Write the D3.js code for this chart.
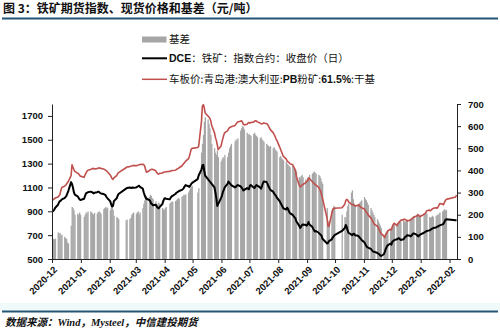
<!DOCTYPE html>
<html>
<head>
<meta charset="utf-8">
<script src="https://cdn.jsdelivr.net/npm/d3@7"></script>
<style>
  html, body { margin: 0; padding: 0; background: #fff; }
  svg { display: block; }
</style>
</head>
<body>
<svg id="chart" width="500" height="332"></svg>
<script>
// Exchange holidays (DCE) inside the plotted period
const holidays = [
  "2021-01-01", "2021-02-11", "2021-02-12", "2021-02-15", "2021-02-16", "2021-02-17",
  "2021-04-05", "2021-05-03", "2021-05-04", "2021-05-05", "2021-06-14",
  "2021-09-20", "2021-09-21", "2021-10-01", "2021-10-04", "2021-10-05", "2021-10-06", "2021-10-07",
  "2022-01-03", "2022-01-31", "2022-02-01", "2022-02-02", "2022-02-03", "2022-02-04"
];
const firstDay = "2020-12-01";
const lastDay = "2022-02-08";

// Month labels on the date axis
const monthTicks = ["2020-12", "2021-01", "2021-02", "2021-03", "2021-04", "2021-05", "2021-06",
  "2021-07", "2021-08", "2021-09", "2021-10", "2021-11", "2021-12", "2022-01", "2022-02"];

// DCE iron ore index contract, daily close (yuan/t), one row per month
const futuresClose = [
  [897, 905, 915, 930, 955, 975, 985, 990, 1000, 1010, 1020, 1030, 1050, 1070, 1145, 1130, 1100, 1060, 1040, 1025, 1015, 1000, 995],
  [1005, 1030, 1050, 1055, 1060, 1065, 1062, 1058, 1050, 1055, 1060, 1065, 1062, 1055, 1050, 1045, 1040, 1035, 1020, 1010],
  [985, 960, 940, 945, 985, 1010, 1030, 1045, 1090, 1095, 1100, 1098, 1095, 1100, 1098],
  [1100, 1105, 1110, 1115, 1105, 1090, 1060, 1035, 1015, 1005, 995, 985, 965, 960, 950, 955, 940, 930, 925, 935, 960, 985, 1005],
  [1010, 1005, 1000, 1015, 1025, 1030, 1045, 1055, 1060, 1065, 1070, 1080, 1085, 1095, 1110, 1120, 1110, 1105, 1115, 1130, 1138],
  [1170, 1200, 1250, 1285, 1290, 1240, 1200, 1170, 1160, 1150, 1140, 1130, 1100, 1060, 1010, 945, 960, 1010],
  [1030, 1060, 1080, 1100, 1130, 1150, 1140, 1130, 1120, 1100, 1105, 1115, 1120, 1110, 1100, 1090, 1075, 1080, 1095, 1090, 1085],
  [1115, 1120, 1100, 1095, 1110, 1120, 1115, 1100, 1090, 1110, 1135, 1150, 1145, 1130, 1110, 1095, 1080, 1065, 1050, 1040, 1030, 1015],
  [985, 970, 955, 940, 925, 915, 930, 920, 900, 885, 870, 860, 850, 840, 815, 780, 760, 770, 785, 790, 785, 780],
  [790, 810, 790, 770, 755, 740, 730, 735, 720, 710, 705, 695, 670, 630, 635, 650, 665, 680, 690, 700],
  [735, 760, 785, 770, 740, 720, 705, 700, 710, 712, 700, 695, 690, 680, 670, 660],
  [640, 625, 610, 600, 595, 585, 575, 565, 560, 560, 550, 545, 540, 530, 525, 540, 560, 585, 600, 615, 630, 620],
  [645, 650, 658, 665, 670, 675, 668, 660, 665, 675, 685, 690, 700, 695, 690, 700, 710, 715, 705, 695, 690, 700, 705],
  [720, 725, 730, 735, 740, 745, 750, 755, 760, 765, 770, 772, 778, 782, 790, 795, 810, 828, 833],
  [825, 822]
];

// Qingdao port PB fines 61.5%, dry basis, truck-board price (yuan/t)
const spotPB = [
  [995, 1000, 1005, 1012, 1020, 1030, 1040, 1075, 1100, 1110, 1118, 1125, 1140, 1150, 1200, 1290, 1270, 1250, 1235, 1220, 1215, 1205, 1195],
  [1185, 1205, 1220, 1235, 1245, 1250, 1255, 1258, 1260, 1255, 1258, 1262, 1265, 1262, 1260, 1255, 1250, 1245, 1240, 1232],
  [1205, 1190, 1175, 1168, 1180, 1200, 1215, 1225, 1265, 1272, 1275, 1278, 1280, 1282, 1285],
  [1282, 1285, 1288, 1290, 1293, 1295, 1292, 1280, 1250, 1228, 1240, 1248, 1250, 1252, 1250, 1240, 1225, 1215, 1212, 1218, 1222, 1226, 1230],
  [1230, 1232, 1235, 1238, 1240, 1242, 1245, 1250, 1255, 1260, 1265, 1280, 1290, 1300, 1310, 1320, 1340, 1360, 1390, 1420, 1428],
  [1435, 1445, 1650, 1780, 1795, 1770, 1725, 1700, 1690, 1680, 1660, 1620, 1560, 1520, 1495, 1460, 1418, 1445],
  [1480, 1510, 1540, 1560, 1575, 1590, 1600, 1605, 1610, 1620, 1630, 1640, 1650, 1655, 1660, 1650, 1630, 1625, 1630, 1640, 1645],
  [1640, 1645, 1648, 1655, 1660, 1658, 1650, 1640, 1635, 1632, 1638, 1640, 1635, 1630, 1615, 1600, 1585, 1560, 1545, 1530, 1510, 1495],
  [1440, 1420, 1400, 1380, 1360, 1340, 1325, 1315, 1310, 1300, 1290, 1275, 1260, 1240, 1190, 1120, 1105, 1110, 1120, 1125, 1140, 1150],
  [1155, 1180, 1175, 1150, 1140, 1135, 1125, 1120, 1100, 1085, 1070, 1040, 1010, 840, 775, 775, 883, 910, 925, 925],
  [930, 960, 990, 1000, 995, 980, 960, 955, 958, 950, 945, 950, 955, 945, 935, 930],
  [920, 905, 895, 885, 870, 845, 830, 815, 800, 790, 775, 760, 745, 725, 715, 690, 680, 705, 715, 735, 750, 745],
  [770, 790, 800, 780, 795, 805, 815, 825, 830, 835, 830, 825, 820, 825, 830, 835, 845, 850, 860, 865, 870, 860, 855],
  [875, 880, 890, 905, 910, 905, 912, 920, 925, 930, 925, 935, 950, 965, 960, 955, 975, 990, 1000],
  [1020, 1035]
];

// Basis (yuan/t), right axis
const basis = [
  [95, 90, 88, 92, 120, 115, 118, 105, 110, 100, 95, 90, 75, 70, 150, 235, 230, 220, 200, 205, 200, 210, 200],
  [190, 200, 210, 205, 215, 215, 210, 205, 200, 208, 205, 212, 215, 210, 205, 225, 230, 235, 228, 232],
  [220, 230, 235, 222, 195, 190, 185, 180, 175, 178, 180, 185, 200, 205, 210],
  [205, 210, 215, 200, 210, 230, 250, 265, 280, 285, 280, 290, 285, 275, 270, 260, 250, 245, 255, 250, 230, 225, 220],
  [230, 235, 250, 255, 260, 258, 262, 265, 270, 275, 272, 280, 285, 290, 288, 292, 300, 310, 320, 325, 330],
  [300, 320, 480, 520, 560, 620, 640, 630, 610, 590, 560, 520, 500, 480, 470, 490, 460, 440],
  [450, 460, 455, 470, 460, 480, 500, 510, 520, 530, 540, 535, 545, 580, 590, 600, 595, 585, 570, 560, 565],
  [560, 555, 565, 570, 560, 555, 550, 545, 550, 540, 535, 530, 520, 515, 510, 505, 510, 500, 505, 495, 490, 485],
  [460, 465, 455, 450, 445, 440, 430, 425, 420, 415, 420, 410, 400, 405, 395, 370, 365, 375, 380, 370, 360, 355],
  [365, 370, 380, 385, 390, 395, 390, 385, 380, 375, 365, 350, 340, 230, 170, 160, 220, 230, 240, 235],
  [200, 190, 185, 215, 240, 250, 300, 310, 270, 250, 245, 240, 250, 255, 260, 265],
  [280, 270, 265, 255, 245, 230, 220, 210, 200, 190, 180, 170, 160, 150, 140, 110, 100, 120, 125, 130, 135, 130],
  [150, 155, 160, 160, 165, 170, 165, 170, 175, 170, 168, 172, 178, 180, 185, 182, 190, 195, 200, 205, 198, 195, 200],
  [200, 205, 210, 205, 190, 185, 190, 195, 190, 195, 200, 198, 205, 210, 215, 220, 225, 218, 222],
  [null, null]
];

const leftTicks = [500, 700, 900, 1100, 1300, 1500, 1700];
const rightTicks = [0, 100, 200, 300, 400, 500, 600, 700];

// Legend labels, split into CJK and Latin runs (Latin runs set in bold)
const legendBasis = [["基差", false]];
const legendFutures = [["DCE", true], ["：铁矿：指数合约：收盘价（日）", false]];
const legendSpot = [["车板价:青岛港:澳大利亚:", false], ["PB", true], ["粉矿:", false], ["61.5%", true], [":干基", false]];

// ---- trading calendar ----
const parseDay = d3.utcParse("%Y-%m-%d");
const fmtDay = d3.utcFormat("%Y-%m-%d");
const holidaySet = new Set(holidays);
const start = parseDay(firstDay), end = parseDay(lastDay);

function tradingDaysOf(monthKey) {
  const m0 = d3.utcParse("%Y-%m")(monthKey);
  const m1 = d3.utcMonth.offset(m0, 1);
  return d3.utcDays(m0, m1).filter(d => {
    const wd = d.getUTCDay();
    return wd !== 0 && wd !== 6 && !holidaySet.has(fmtDay(d)) && d >= start && d <= end;
  });
}

const rows = [];
monthTicks.forEach((mk, i) => {
  tradingDaysOf(mk).forEach((d, j) => {
    rows.push({ date: d, futures: futuresClose[i][j], spot: spotPB[i][j], basis: basis[i][j] });
  });
});

// ---- layout ----
const svg = d3.select("#chart");
const plot = { left: 52, right: 457, top: 104, bottom: 259 };
const rule = "#245776";

svg.append("rect").attr("width", 500).attr("height", 332).attr("fill", "#fff");

const x = d3.scaleUtc()
  .domain([start, d3.utcDay.offset(end, 1)])
  .range([plot.left, plot.right]);
const yL = d3.scaleLinear().domain([500, 1800]).range([plot.bottom, plot.top]);
const yR = d3.scaleLinear().domain([0, 700]).range([plot.bottom, plot.top]);

const mid = d => d3.utcHour.offset(d, 12);

// basis bars, one per trading day
svg.append("g").selectAll("rect")
  .data(rows.filter(r => r.basis != null))
  .join("rect")
  .attr("x", r => x(r.date))
  .attr("width", r => x(d3.utcDay.offset(r.date, 1)) - x(r.date) + 0.35)
  .attr("y", r => yR(r.basis))
  .attr("height", r => yR(0) - yR(r.basis))
  .attr("fill", "#a6a6a6");

// price lines
const lineOf = (key, scale) => d3.line()
  .defined(r => r[key] != null)
  .x(r => x(mid(r.date)))
  .y(r => scale(r[key]));

svg.append("path").datum(rows)
  .attr("d", lineOf("spot", yL))
  .attr("fill", "none").attr("stroke", "#c0504d").attr("stroke-width", 1.6)
  .attr("stroke-linejoin", "round");

svg.append("path").datum(rows)
  .attr("d", lineOf("futures", yL))
  .attr("fill", "none").attr("stroke", "#000").attr("stroke-width", 2)
  .attr("stroke-linejoin", "round");

// axes
const tickFont = "'Liberation Sans', Arial, sans-serif";

const gL = svg.append("g").attr("transform", `translate(${plot.left},0)`)
  .call(d3.axisLeft(yL).tickValues(leftTicks).tickFormat(d3.format("d"))
    .tickSize(4).tickSizeOuter(0).tickPadding(5));
const gR = svg.append("g").attr("transform", `translate(${plot.right},0)`)
  .call(d3.axisRight(yR).tickValues(rightTicks).tickFormat(d3.format("d"))
    .tickSize(4).tickSizeOuter(0).tickPadding(7));
const monthDates = monthTicks.map(m => d3.utcParse("%Y-%m")(m));
const gX = svg.append("g").attr("transform", `translate(0,${plot.bottom})`)
  .call(d3.axisBottom(x).tickValues(monthDates).tickSize(4).tickSizeOuter(0)
    .tickFormat(d3.utcFormat("%Y-%m")));

[gL, gR, gX].forEach(g => {
  g.selectAll(".domain").attr("stroke", "#222").attr("stroke-width", 1);
  g.selectAll(".tick line").attr("stroke", "#222");
  g.selectAll("text").attr("font-family", tickFont).attr("font-weight", "bold")
    .attr("font-size", 9.5).attr("fill", "#111");
});

gX.selectAll(".tick text")
  .attr("text-anchor", "end")
  .attr("dy", "0.35em")
  .attr("y", 0)
  .attr("transform", "translate(3,9) rotate(-45)");

// legend
const cjk = "'Noto Sans CJK SC', 'Liberation Sans', sans-serif";
const lg = svg.append("g").attr("font-family", cjk).attr("font-size", 10.5).attr("fill", "#111");
function legendText(y, runs) {
  const t = lg.append("text").attr("x", 169).attr("y", y);
  runs.forEach(([s, latin]) => {
    const sp = t.append("tspan").text(s);
    if (latin) sp.attr("font-family", tickFont).attr("font-weight", "bold");
  });
}
lg.append("rect").attr("x", 142).attr("y", 36.5).attr("width", 24.5).attr("height", 6).attr("fill", "#a6a6a6");
legendText(43.3, legendBasis);
lg.append("line").attr("x1", 142).attr("x2", 167).attr("y1", 58.3).attr("y2", 58.3)
  .attr("stroke", "#000").attr("stroke-width", 2);
legendText(62, legendFutures);
lg.append("line").attr("x1", 142).attr("x2", 167).attr("y1", 79.3).attr("y2", 79.3)
  .attr("stroke", "#c0504d").attr("stroke-width", 1.5);
legendText(83, legendSpot);

// title and rule
svg.append("text").attr("x", 3).attr("y", 13)
  .attr("font-family", cjk).attr("font-weight", "bold").attr("font-size", 12).attr("fill", "#111")
  .text("图 3：铁矿期货指数、现货价格和基差（元/吨）");
svg.append("line").attr("x1", 2).attr("x2", 498).attr("y1", 18.5).attr("y2", 18.5)
  .attr("stroke", rule).attr("stroke-width", 2);

// source note
svg.append("rect").attr("x", 0).attr("y", 303).attr("width", 500).attr("height", 7.5).attr("fill", "#f1fafa");
svg.append("line").attr("x1", 2).attr("x2", 498).attr("y1", 311.5).attr("y2", 311.5)
  .attr("stroke", rule).attr("stroke-width", 2);
const src = svg.append("text").attr("x", 5).attr("y", 326)
  .attr("font-size", 10.5).attr("font-style", "italic").attr("font-weight", "bold").attr("fill", "#111")
  .attr("font-family", cjk);
src.append("tspan").text("数据来源：");
src.append("tspan").attr("font-family", "'Liberation Serif', serif").text("Wind");
src.append("tspan").text("，");
src.append("tspan").attr("font-family", "'Liberation Serif', serif").text("Mysteel");
src.append("tspan").text("，中信建投期货");
</script>
</body>
</html>
